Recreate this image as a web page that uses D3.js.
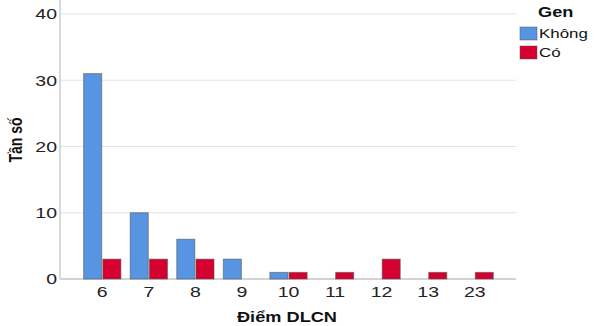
<!DOCTYPE html>
<html>
<head>
<meta charset="utf-8">
<script src="https://cdn.jsdelivr.net/npm/d3@7/dist/d3.min.js"></script>
<style>
  body { margin: 0; background: #fff; }
  svg { display: block; font-family: "Liberation Sans", Arial, sans-serif; }
</style>
</head>
<body>
<div id="chart"></div>
<script>
const categories = ["6", "7", "8", "9", "10", "11", "12", "13", "23"];
const khongValues = [31, 10, 6, 3, 1, 0, 0, 0, 0];
const coValues = [3, 3, 3, 0, 1, 1, 3, 1, 1];
const seriesNames = ["Không", "Có"];
const yTicks = [0, 10, 20, 30, 40];

document.addEventListener('DOMContentLoaded', function() {
    const width = 598, height = 326;
    const plotLeft = 60, plotRight = 516, plotBottom = 279;
    const stretch = 1.3; // the picture's text is wide, stretch it horizontally

    const svg = d3.select("#chart").append("svg")
        .attr("width", width)
        .attr("height", height);

    const color = d3.scaleOrdinal().domain(seriesNames).range(["#5795e2", "#d5002f"]);

    const x = d3.scaleBand().domain(categories).range([79, 498])
        .paddingInner(0.2).paddingOuter(0.1);
    const xSub = d3.scaleBand().domain(seriesNames).range([0, x.bandwidth()]).paddingInner(0.06);
    const y = d3.scaleLinear().domain([0, 40]).range([plotBottom, 14]);

    // gridlines
    svg.append("g").selectAll("line")
        .data(yTicks.filter(d => d > 0))
        .join("line")
        .attr("x1", plotLeft).attr("x2", plotRight)
        .attr("y1", d => y(d)).attr("y2", d => y(d))
        .attr("stroke", "#e3e3e3").attr("stroke-width", 1.2);

    // y axis
    const yAxis = svg.append("g")
        .attr("transform", `translate(${plotLeft - 3},0)`)
        .call(d3.axisLeft(y).tickValues(yTicks).tickSize(0).tickPadding(0));
    yAxis.select(".domain").remove();
    yAxis.selectAll("text").attr("font-size", 15).attr("fill", "#222")
        .attr("font-family", "Liberation Sans, Arial, sans-serif")
        .attr("transform", `scale(${stretch},1)`);

    // axis lines (under the bars)
    svg.append("line")
        .attr("x1", plotLeft).attr("x2", plotLeft)
        .attr("y1", 0).attr("y2", plotBottom)
        .attr("stroke", "#c4c4c4").attr("stroke-width", 1.3);
    svg.append("line")
        .attr("x1", plotLeft).attr("x2", plotRight)
        .attr("y1", plotBottom).attr("y2", plotBottom)
        .attr("stroke", "#c4c4c4").attr("stroke-width", 1.3);

    // bars
    const rows = categories.map((c, i) => ({ cat: c, values: [khongValues[i], coValues[i]] }));
    const groups = svg.append("g").selectAll("g")
        .data(rows)
        .join("g")
        .attr("transform", d => `translate(${x(d.cat)},0)`);
    groups.selectAll("rect")
        .data(d => seriesNames.map((s, j) => ({ name: s, value: d.values[j] })))
        .join("rect")
        .attr("x", d => xSub(d.name))
        .attr("width", xSub.bandwidth())
        .attr("y", d => y(d.value))
        .attr("height", d => y(0) - y(d.value))
        .attr("fill", d => color(d.name))
        .attr("stroke", "#555")
        .attr("stroke-opacity", 0.6)
        .attr("stroke-width", 1);

    // x axis labels
    const xAxis = svg.append("g")
        .attr("transform", `translate(0,${plotBottom})`)
        .call(d3.axisBottom(x).tickSize(0).tickPadding(7));
    xAxis.select(".domain").remove();
    xAxis.selectAll("text").attr("font-size", 15).attr("fill", "#222")
        .attr("font-family", "Liberation Sans, Arial, sans-serif")
        .attr("transform", `scale(${stretch},1)`);

    // axis titles
    svg.append("text")
        .attr("transform", `translate(287,322) scale(${stretch},1)`)
        .attr("text-anchor", "middle")
        .attr("font-size", 14).attr("font-weight", "bold").attr("fill", "#111")
        .text("Điểm DLCN");
    svg.append("text")
        .attr("transform", `translate(22,140) rotate(-90) scale(1,${stretch})`)
        .attr("text-anchor", "middle")
        .attr("font-size", 14).attr("font-weight", "bold").attr("fill", "#111")
        .text("Tần số");

    // legend
    const legend = svg.append("g");
    legend.append("text")
        .attr("transform", `translate(538,17) scale(${stretch},1)`)
        .attr("font-size", 14).attr("font-weight", "bold").attr("fill", "#111")
        .text("Gen");
    const items = legend.selectAll("g.item")
        .data(seriesNames)
        .join("g")
        .attr("class", "item")
        .attr("transform", (d, i) => `translate(520,${27 + i * 19})`);
    items.append("rect")
        .attr("width", 17).attr("height", 13)
        .attr("fill", d => color(d))
        .attr("stroke", "#555").attr("stroke-opacity", 0.5);
    items.append("text")
        .attr("transform", `translate(19,11) scale(${stretch},1)`)
        .attr("font-size", 13).attr("fill", "#111")
        .text(d => d);
});
</script>
</body>
</html>
